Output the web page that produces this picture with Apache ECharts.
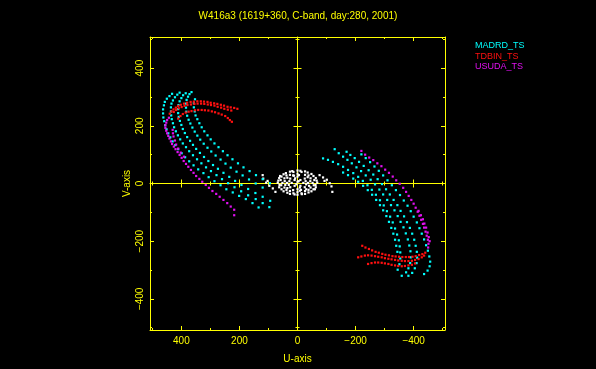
<!DOCTYPE html>
<html><head><meta charset="utf-8">
<script src="https://cdn.jsdelivr.net/npm/echarts@6/dist/echarts.min.js"></script>
<style>html,body{margin:0;padding:0;background:#000;}#c{width:596px;height:369px;}</style>
</head><body><div id="c"></div>
<script>
// ---------- data (u, v) ----------
const titleText = 'W416a3 (1619+360, C-band, day:280, 2001)';
const seriesNames = ['MADRD_TS', 'TDBIN_TS', 'USUDA_TS'];
const majorTicks = [-400, -200, 0, 200, 400];
const minorTicks = [-500, -300, -100, 100, 300, 500];
const axisRange = [-508, 508];

// MADRD_TS (cyan), upper-left arc
const madrdL1 = [[432,311],[441,303],[450,294],[457,283],[460,271],[463,257],[463,243],[462,229],[459,216],[456,202],[451,188],[445,174],[438,160],[430,146],[421,133],[411,119],[399,105],[387,91],[373,77],[358,63],[342,49],[324,36],[306,22],[286,8],[265,-6],[245,-20],[223,-31],[201,-43],[178,-54],[155,-68],[134,-83]];
const madrdL2 = [[406,315],[414,308],[422,299],[429,288],[434,277],[436,264],[436,250],[435,236],[433,223],[429,209],[425,195],[419,181],[412,167],[404,153],[395,139],[384,126],[373,112],[360,98],[346,84],[331,70],[315,56],[298,43],[279,29],[260,15],[239,1],[217,-13],[194,-27],[170,-41],[144,-54],[120,-68],[97,-82]];
const madrdL3 = [[385,313],[394,306],[400,296],[406,285],[410,272],[411,258],[411,244],[409,231],[405,217],[400,203],[395,189],[388,175],[380,161],[370,148],[360,134],[349,120],[336,106],[322,92],[307,78],[291,64],[274,51],[255,37],[235,23],[215,9],[193,-5],[170,-19],[145,-33],[120,-46],[94,-60]];
const madrdL4 = [[365,317],[372,310],[377,301],[382,290],[384,277],[384,263],[383,249],[380,235],[375,221],[369,208],[362,194],[354,180],[345,166],[335,152],[323,138],[310,124],[297,111],[282,97],[265,83],[248,69],[230,55],[210,41],[189,28],[167,14],[144,0],[120,-14]];
const madrdL5 = [[353,292],[357,278],[357,264],[354,250],[351,236],[345,223],[338,209],[330,195],[321,181],[310,167],[299,153],[286,139],[272,126],[257,112],[241,98],[224,84],[205,70],[186,56],[165,43],[143,29],[120,15],[95,1]];
// MADRD_TS (cyan), lower-right arc
const madrdR1 = [[-220,101],[-235,88],[-250,74],[-265,59],[-280,44],[-295,28],[-310,11],[-325,-6],[-339,-23],[-353,-40],[-366,-59],[-379,-77],[-390,-96],[-400,-115],[-411,-135],[-420,-155],[-428,-174],[-436,-194],[-443,-214],[-449,-233],[-454,-253],[-457,-271],[-455,-287],[-448,-302],[-436,-314]];
const madrdR2 = [[-169,110],[-182,99],[-197,88],[-212,75],[-228,61],[-245,46],[-261,31],[-276,15],[-291,-2],[-305,-20],[-318,-38],[-331,-57],[-344,-75],[-355,-95],[-367,-114],[-377,-134],[-387,-154],[-395,-174],[-402,-195],[-407,-216],[-411,-237],[-412,-257],[-410,-276],[-404,-294],[-395,-310],[-382,-320]];
const madrdR3 = [[-128,119],[-142,105],[-157,93],[-172,82],[-187,70],[-203,56],[-219,43],[-235,28],[-252,13],[-267,-3],[-282,-21],[-295,-38],[-309,-57],[-322,-75],[-334,-93],[-345,-113],[-355,-133],[-365,-152],[-373,-173],[-380,-194],[-385,-215],[-389,-235],[-390,-256],[-388,-276],[-382,-294],[-374,-308],[-359,-320]];
const madrdR4 = [[-88,87],[-105,82],[-122,75],[-140,67],[-157,58],[-174,47],[-192,36],[-209,23],[-225,9],[-241,-6],[-256,-22],[-270,-39],[-284,-58],[-297,-76],[-308,-96],[-319,-115],[-328,-135],[-336,-156],[-343,-177],[-349,-197],[-352,-218],[-354,-239],[-354,-260],[-351,-280],[-345,-299]];
const madrdR5 = [[-157,38],[-174,29],[-192,17],[-209,6],[-226,-8],[-242,-23],[-257,-39],[-271,-57],[-284,-75],[-295,-93],[-306,-113],[-315,-133],[-323,-154],[-330,-174],[-336,-195],[-340,-216],[-344,-237]];

// TDBIN_TS (red)
const tdbinL1 = [[440,242],[434,250],[427,257],[419,263],[411,269],[402,273],[391,277],[380,280],[368,283],[357,284],[345,285],[333,285],[322,284],[310,283],[299,280],[287,278],[276,276],[264,273],[253,270],[241,266],[230,264],[218,262],[207,259]];
const tdbinL2 = [[426,248],[418,255],[409,261],[399,265],[389,269],[379,272],[367,274],[355,276],[344,277],[332,277],[321,276],[309,274],[298,272],[286,270],[275,266],[263,263],[252,259],[240,256],[228,253]];
const tdbinL3 = [[411,225],[403,234],[395,241],[385,246],[375,249],[365,251],[353,254],[342,255],[330,255],[319,254],[307,253],[295,250],[284,247],[272,243],[261,239],[249,234],[240,227],[233,220],[226,214]];
const tdbinR1 = [[-223,-216],[-234,-222],[-246,-227],[-257,-232],[-269,-237],[-280,-240],[-292,-244],[-303,-247],[-315,-249],[-327,-252],[-338,-253],[-350,-254],[-361,-255],[-373,-255],[-384,-255],[-396,-254],[-407,-252],[-419,-248],[-430,-245],[-440,-240]];
const tdbinR2 = [[-209,-256],[-220,-253],[-232,-250],[-243,-249],[-255,-250],[-267,-252],[-278,-254],[-290,-256],[-301,-259],[-313,-261],[-324,-263],[-336,-265],[-347,-267],[-359,-268],[-370,-269],[-382,-269],[-394,-268],[-405,-265],[-417,-262],[-428,-256],[-436,-250]];
const tdbinR3 = [[-243,-279],[-255,-276],[-267,-274],[-278,-274],[-290,-275],[-301,-277],[-313,-279],[-324,-282],[-336,-284],[-347,-286],[-359,-287],[-370,-286],[-382,-284],[-394,-282],[-405,-277]];

// USUDA_TS (magenta)
const usudaL1 = [[443,228],[449,220],[452,211],[455,202],[455,193],[452,183],[449,174],[445,165],[441,156],[436,146],[432,137],[426,128],[420,119],[413,109],[406,99],[399,89],[392,78],[384,68],[376,58],[367,47],[358,37],[349,26],[338,16],[328,6],[316,-5],[305,-15],[293,-26],[280,-36],[268,-46],[255,-57],[242,-68],[230,-80],[218,-91],[218,-110]];
const usudaL2 = [[430,186],[429,174],[427,163],[422,149],[418,135],[411,121],[402,107],[391,93]];
const usudaR1 = [[-220,113],[-233,100],[-247,90],[-261,81],[-275,70],[-289,60],[-302,48],[-315,37],[-328,24],[-340,11],[-352,-1],[-364,-15],[-374,-29],[-383,-43],[-392,-57],[-400,-70],[-407,-84],[-414,-98],[-420,-112],[-426,-126],[-432,-140],[-436,-153],[-441,-167],[-445,-181],[-449,-195],[-451,-209],[-450,-222]];
const usudaR2 = [[-417,-95],[-425,-110],[-432,-124],[-437,-139],[-443,-153],[-448,-170],[-452,-186],[-455,-200]];

// short baselines (white) near the origin
const whiteCore = [[68,3],[63,19],[48,32],[26,41],[0,45],[-26,42],[-48,33],[-63,19],[-68,3],[-63,-13],[-48,-27],[-26,-36],[0,-39],[26,-36],[48,-27],[63,-13],
  [52,2],[45,18],[26,30],[0,34],[-26,30],[-45,18],[-52,2],[-45,-14],[-26,-26],[0,-30],[26,-26],[45,-14],
  [36,2],[25,17],[0,24],[-25,17],[-36,2],[-25,-13],[0,-20],[25,-13],
  [20,2],[10,12],[-10,12],[-20,2],[-10,-8],[10,-8],
  [58,12],[56,-6],[-58,12],[-56,-6],[38,28],[-38,28],[38,-22],[-38,-22],[14,40],[-14,40],[14,-34],[-14,-34],[60,26],[-60,-20],[12,27],[-12,-22]];
const whiteFill = [[66,10],[62,-5],[55,24],[40,36],[18,43],[-10,44],[-35,38],[-55,26],[-66,10],[-62,-5],[-55,-20],[-38,-31],[-15,-37],[10,-38],[35,-32],[55,-20],
  [44,8],[35,20],[15,28],[-5,29],[-35,22],[-44,8],[-40,-8],[-30,-20],[-8,-25],[15,-23],[35,-16],[42,-5],[28,8],[-28,8],[8,18],[-8,-14],[0,6],[4,-3],[-4,8],[30,-5],[-30,-3]];
const whiteArcs = [[120,29],[118,17],[108,3],[97,-8],[85,-17],[76,-29],[-76,29],[-88,21],[-101,13],[-111,1],[-117,-10],[-120,-29],[103,9],[-93,9]];

// ---------- chart ----------
const YEL = '#ffff00';
const COLORS = {cyan: '#00ffff', red: '#ff1010', mag: '#e010f0', white: '#ffffff'};
const FONT = '"Liberation Sans", "DejaVu Sans", sans-serif';
const minusFmt = v => String(v).replace('-', '\u2212');

function mkAxis(dim, pos, onZero, ticks, len, extra) {
  const a = {
    type: 'value', min: axisRange[0], max: axisRange[1], inverse: dim === 'x',
    position: pos, silent: true,
    splitLine: {show: false},
    axisLine: {show: false, onZero: onZero, onZeroAxisIndex: 0, lineStyle: {color: YEL, width: 1}},
    axisTick: {show: true, inside: true, length: len, customValues: ticks, lineStyle: {color: YEL, width: 1}},
    axisLabel: {show: false},
    axisPointer: {show: false}
  };
  return Object.assign(a, extra || {}, {
    axisLine: Object.assign(a.axisLine, (extra && extra.axisLine) || {}),
  });
}

const labelStyle = {color: YEL, fontSize: 10, fontFamily: FONT};

const xAxes = [
  mkAxis('x', 'bottom', false, majorTicks, 4, {
    axisLine: {show: true},
    axisLabel: Object.assign({show: true, customValues: majorTicks, margin: 6, formatter: minusFmt}, labelStyle),
    name: 'U-axis', nameLocation: 'middle', nameGap: 24,
    nameTextStyle: {color: YEL, fontSize: 10, fontFamily: FONT}
  }),
  mkAxis('x', 'bottom', false, minorTicks, 2),
  mkAxis('x', 'top', false, majorTicks, 4, {axisLine: {show: true}}),
  mkAxis('x', 'top', false, minorTicks, 2),
  mkAxis('x', 'bottom', true, majorTicks, 4, {axisLine: {show: true}}),
  mkAxis('x', 'bottom', true, minorTicks, 2),
  mkAxis('x', 'top', true, majorTicks, 4),
  mkAxis('x', 'top', true, minorTicks, 2)
];
const yAxes = [
  mkAxis('y', 'left', false, majorTicks, 4, {
    axisLine: {show: true},
    axisLabel: Object.assign({show: true, customValues: majorTicks, margin: 5, rotate: 90, formatter: minusFmt}, labelStyle),
    name: 'V-axis', nameLocation: 'middle', nameGap: 18, nameRotate: 90,
    nameTextStyle: {color: YEL, fontSize: 10, fontFamily: FONT}
  }),
  mkAxis('y', 'left', false, minorTicks, 2),
  mkAxis('y', 'right', false, majorTicks, 4, {axisLine: {show: true}}),
  mkAxis('y', 'right', false, minorTicks, 2),
  mkAxis('y', 'left', true, majorTicks, 4, {axisLine: {show: true}}),
  mkAxis('y', 'left', true, minorTicks, 2),
  mkAxis('y', 'right', true, majorTicks, 4),
  mkAxis('y', 'right', true, minorTicks, 2)
];

function scatter(name, color, data) {
  return {
    type: 'scatter', name: name, xAxisIndex: 0, yAxisIndex: 0,
    symbol: 'rect', symbolSize: 2.2, data: data,
    itemStyle: {color: color, opacity: 1},
    emphasis: {disabled: true}, silent: true
  };
}

const chart = echarts.init(document.getElementById('c'), null, {renderer: 'canvas'});
chart.setOption({
  backgroundColor: '#000000',
  animation: false,
  title: {
    text: titleText, left: 'center', top: 11, padding: 0,
    textStyle: {color: YEL, fontSize: 10, fontWeight: 'normal', fontFamily: FONT}
  },
  legend: {
    left: 465, top: 36, orient: 'vertical', selectedMode: false,
    itemWidth: 0, itemHeight: 0, itemGap: 0.5, icon: 'rect',
    textStyle: {fontSize: 9, fontFamily: FONT, lineHeight: 10},
    data: [
      {name: seriesNames[0], textStyle: {color: COLORS.cyan}},
      {name: seriesNames[1], textStyle: {color: COLORS.red}},
      {name: seriesNames[2], textStyle: {color: COLORS.mag}}
    ]
  },
  grid: {left: 150, top: 37, width: 295, height: 294, containLabel: false},
  xAxis: xAxes,
  yAxis: yAxes,
  series: [
    scatter('short', COLORS.white, [].concat(whiteCore, whiteFill, whiteArcs)),
    scatter(seriesNames[0], COLORS.cyan, [].concat(madrdL1, madrdL2, madrdL3, madrdL4, madrdL5, madrdR1, madrdR2, madrdR3, madrdR4, madrdR5)),
    scatter(seriesNames[1], COLORS.red, [].concat(tdbinL1, tdbinL2, tdbinL3, tdbinR1, tdbinR2, tdbinR3)),
    scatter(seriesNames[2], COLORS.mag, [].concat(usudaL1, usudaL2, usudaR1, usudaR2))
  ]
});
</script></body></html>
